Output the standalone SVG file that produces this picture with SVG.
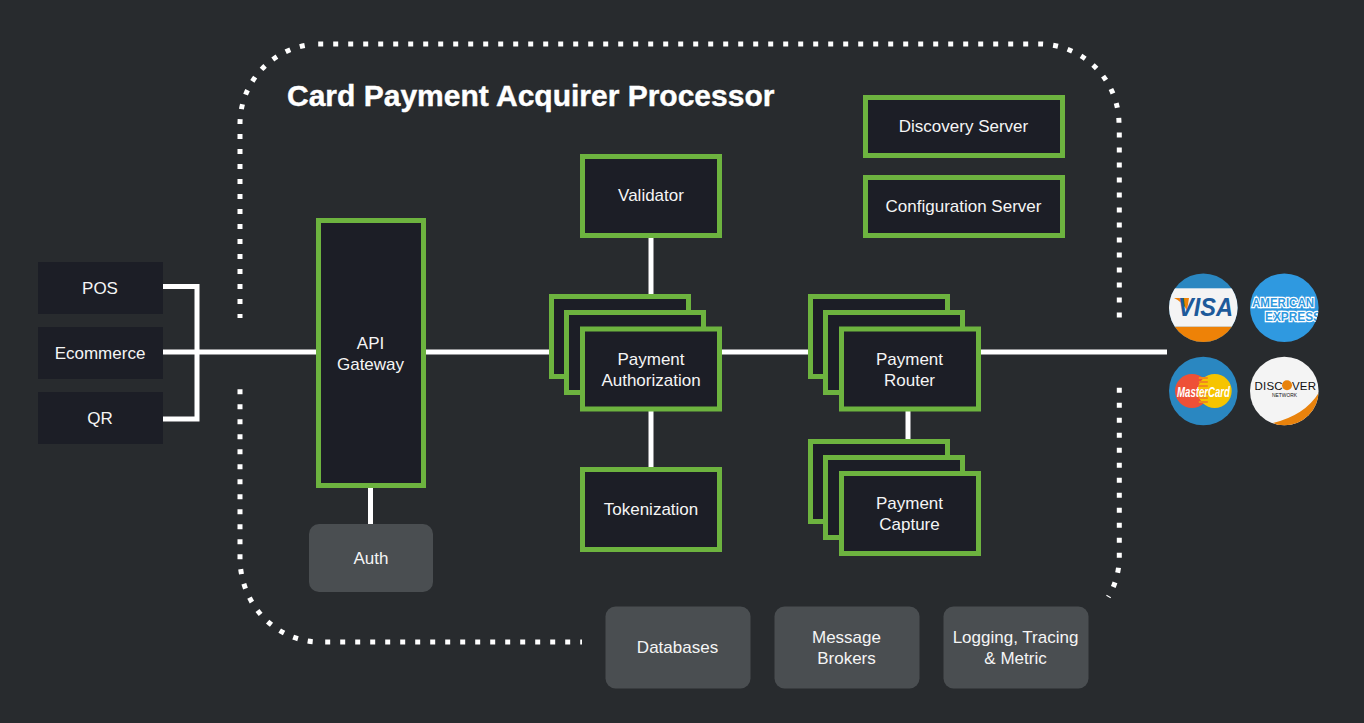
<svg xmlns="http://www.w3.org/2000/svg" width="1364" height="723" viewBox="0 0 1364 723">
<style>
text{font-family:"Liberation Sans",Arial,sans-serif;font-size:17px;fill:#f5f5f5;text-anchor:middle}
.title{font-size:30px;font-weight:700;fill:#fff;stroke:#fff;stroke-width:.4px;text-anchor:start}
.g{fill:#1c1e26;stroke:#6db33f;stroke-width:5}
.c{fill:#1c1e26}
.s{fill:#4a4e51}
.w{fill:none;stroke:#fff;stroke-width:5}
.d{fill:none;stroke:#fff;stroke-width:5;stroke-dasharray:5 10}
.logo{font-weight:700;text-anchor:start}
.ax{font-size:12.500px;fill:#2f99e0;stroke:#fff;stroke-width:2.400px;paint-order:stroke}
</style>
<defs>
<clipPath id="c1"><circle cx="1203.3" cy="307.7" r="34.3"/></clipPath>
<clipPath id="c2"><circle cx="1284.3" cy="307.7" r="34.3"/></clipPath>
<clipPath id="c4"><circle cx="1284.3" cy="391" r="34.3"/></clipPath>
</defs>
<rect width="1364" height="723" fill="#282b2e"/>
<g id="boundary">
<path class="d" d="M240 318V124A80 80 0 0 1 309 44.800" stroke-dashoffset="1"/>
<path class="d" d="M318.200 44H1039A80 80 0 0 1 1119 124"/>
<path class="d" d="M1119.300 132.500V318"/>
<path class="d" d="M1119.300 387.800V557A80 80 0 0 1 1108.300 597"/>
<path class="d" d="M240 389.200V558A80 84 0 0 0 320 642"/>
<path class="d" d="M325.200 642H582"/>
</g>
<g id="connectors">
<path class="w" d="M163 286.500H197V419H163"/>
<path class="w" d="M163 352H318"/>
<path class="w" d="M424 352H552"/>
<path class="w" d="M720 352H810"/>
<path class="w" d="M979 352H1167"/>
<path class="w" d="M651 235V296"/>
<path class="w" d="M651 409V469"/>
<path class="w" d="M370.500 486V526"/>
<path class="w" d="M908 409V441"/>
</g>
<text class="title" x="287" y="106">Card Payment Acquirer Processor</text>
<g id="pos"><rect class="c" x="38" y="262" width="125" height="52"/><text x="100" y="294">POS</text></g>
<g id="ecommerce"><rect class="c" x="38" y="327" width="125" height="52"/><text x="100" y="359">Ecommerce</text></g>
<g id="qr"><rect class="c" x="38" y="392" width="125" height="52"/><text x="100" y="424">QR</text></g>
<g id="api-gateway"><rect class="g" x="318.500" y="220.500" width="105" height="265"/><text x="370.500" y="349">API</text><text x="370.500" y="370">Gateway</text></g>
<g id="auth"><rect class="s" x="309" y="524" width="124" height="68" rx="10"/><text x="371" y="564">Auth</text></g>
<g id="validator"><rect class="g" x="582.500" y="156.500" width="137" height="79"/><text x="651" y="201">Validator</text></g>
<g id="payment-authorization">
<rect class="g" x="551.500" y="296.500" width="137" height="80"/>
<rect class="g" x="566.500" y="312.500" width="137" height="80"/>
<rect class="g" x="582.500" y="329" width="137" height="80"/>
<text x="651" y="365">Payment</text><text x="651" y="386">Authorization</text></g>
<g id="tokenization"><rect class="g" x="582.500" y="469.500" width="137" height="80"/><text x="651" y="515">Tokenization</text></g>
<g id="payment-router">
<rect class="g" x="810.500" y="296.500" width="137" height="80"/>
<rect class="g" x="825.500" y="312.500" width="137" height="80"/>
<rect class="g" x="841.500" y="329" width="137" height="80"/>
<text x="909.500" y="365">Payment</text><text x="909.500" y="386">Router</text></g>
<g id="payment-capture">
<rect class="g" x="810.500" y="441.500" width="137" height="80"/>
<rect class="g" x="825.500" y="457.500" width="137" height="80"/>
<rect class="g" x="841.500" y="473.500" width="137" height="80"/>
<text x="909.500" y="509">Payment</text><text x="909.500" y="530">Capture</text></g>
<g id="discovery-server"><rect class="g" x="865.500" y="97.500" width="197" height="58"/><text x="963.500" y="132">Discovery Server</text></g>
<g id="configuration-server"><rect class="g" x="865.500" y="177.500" width="197" height="58"/><text x="963.500" y="212">Configuration Server</text></g>
<g id="databases"><rect class="s" x="605.500" y="606.500" width="145" height="82" rx="10"/><text x="677.500" y="653">Databases</text></g>
<g id="message-brokers"><rect class="s" x="774.500" y="606.500" width="145" height="82" rx="10"/><text x="846.500" y="643">Message</text><text x="846.500" y="664">Brokers</text></g>
<g id="logging"><rect class="s" x="943.500" y="606.500" width="145" height="82" rx="10"/><text x="1015.500" y="643">Logging, Tracing</text><text x="1015.500" y="664">&amp; Metric</text></g>
<g id="visa" clip-path="url(#c1)">
<rect x="1169" y="273" width="69" height="69" fill="#2a87c1"/>
<rect x="1169" y="288.300" width="69" height="38.500" fill="#f4f4f4"/>
<rect x="1169" y="326.800" width="69" height="16" fill="#ee8207"/>
<path d="M1174 298H1189L1187 311Q1183 302 1174 298Z" fill="#ee8207"/>
<text class="logo" x="1178" y="316" textLength="55" lengthAdjust="spacingAndGlyphs" style="font-size:25.500px;font-style:italic;fill:#1d5a9a">VISA</text>
</g>
<g id="amex" clip-path="url(#c2)">
<rect x="1250" y="273" width="69" height="69" fill="#2f99e0"/>
<text class="logo ax" x="1252" y="306.500" textLength="62" lengthAdjust="spacingAndGlyphs">AMERICAN</text>
<text class="logo ax" x="1265" y="320.500" textLength="56" lengthAdjust="spacingAndGlyphs">EXPRESS</text>
</g>
<g id="mastercard">
<circle cx="1203.3" cy="391" r="34.3" fill="#2a87c1"/>
<circle cx="1192" cy="391" r="17" fill="#ee5037"/>
<circle cx="1214.700" cy="391" r="17" fill="#f6c400"/>
<line x1="1203.300" y1="377" x2="1203.300" y2="405" stroke="#f08a1d" stroke-width="9" stroke-dasharray="2 2"/>
<text class="logo" x="1177" y="396.500" textLength="53" lengthAdjust="spacingAndGlyphs" style="font-size:14.500px;font-style:italic;fill:#fff">MasterCard</text>
</g>
<g id="discover" clip-path="url(#c4)">
<rect x="1250" y="356" width="69" height="70" fill="#f4f4f4"/>
<path d="M1318.600 393Q1305 415 1273 423L1290 430L1322 410Z" fill="#e8820c"/>
<text x="1254.500" y="389.500" style="font-size:11.500px;letter-spacing:.2px;fill:#111;text-anchor:start">DISC<tspan fill="none">O</tspan>VER</text>
<circle cx="1287" cy="385.300" r="5" fill="#e8820c"/>
<text x="1272" y="396.800" textLength="25" lengthAdjust="spacingAndGlyphs" style="font-size:6px;fill:#111;text-anchor:start">NETWORK</text>
</g>
</svg>
